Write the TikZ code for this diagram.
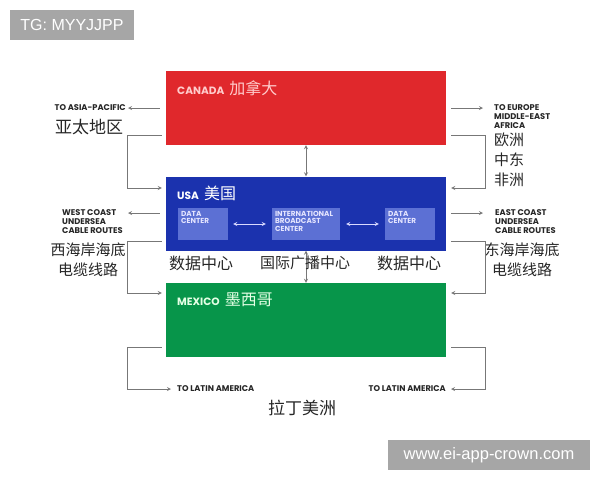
\documentclass[tikz,border=0pt]{standalone}
\usepackage{fontspec}
\usetikzlibrary{positioning}
\usetikzlibrary{calc}
\newfontfamily\cjk{Noto Sans CJK SC}
\newfontfamily\capsfont{Poppins}
\newfontfamily\markfont{Liberation Sans}
\definecolor{canadared}{HTML}{E0282C}
\definecolor{usablue}{HTML}{1B32AE}
\definecolor{hubblue}{HTML}{5C70D4}
\definecolor{mexicogreen}{HTML}{07954A}
\definecolor{linkgray}{HTML}{777777}
\definecolor{markgray}{HTML}{A6A6A6}
\def\boxW{280}
\def\boxH{74}

\begin{document}
\begin{tikzpicture}[x=1pt,y=-1pt,
    region/.style={minimum width=\boxW pt, minimum height=\boxH pt, inner sep=0pt},
    hub/.style={fill=hubblue, minimum height=32pt, inner sep=0pt},
    hubtext/.style={anchor=north west, inner sep=3pt, text=blue!10, align=left,
      font=\capsfont\bfseries\fontsize{7.3}{7.4}\selectfont},
    boxname/.style={anchor=west, inner sep=0pt},
    caps/.style={inner sep=0pt, align=left, text=black!85,
      font=\capsfont\bfseries\fontsize{8.3}{9}\selectfont},
    cn/.style={inner sep=0pt, text=black!85, font=\cjk\fontsize{15}{20}\selectfont},
    link/.style={draw=linkgray, line width=0.8pt, >=stealth},
    hubarrow/.style={draw=blue!15, line width=0.8pt, >=stealth},
    watermark/.style={fill=markgray, text=white, inner sep=0pt, font=\markfont}]
        \useasboundingbox (0,0) rectangle (600,480);

        % watermarks
        \node[watermark, minimum width=124pt, minimum height=30pt,
              font=\markfont\fontsize{16}{16}\selectfont] (tg) at (72,25) {TG: MYYJJPP};
        \node[watermark, minimum width=202pt, minimum height=30pt,
              font=\markfont\fontsize{16.5}{16}\selectfont] (site) at (489,455) {www.ei-app-crown.com};

        % the three countries
        \node[region, fill=canadared] (canada) at (306,108) {};
        \node[region, fill=usablue] (usa) at (306,213.5) {};
        \node[region, fill=mexicogreen] (mexico) at (306,320) {};

        \node[boxname, text=red!20] (canadalbl) at (177,88)
            {{\capsfont\bfseries\fontsize{10.6}{10}\selectfont CANADA}\hspace{5pt}{\cjk\fontsize{16}{16}\selectfont 加拿大}};
        \node[boxname, text=white] (usalbl) at (177,193)
            {{\capsfont\bfseries\fontsize{10.6}{10}\selectfont USA}\hspace{5pt}{\cjk\fontsize{16}{16}\selectfont 美国}};
        \node[boxname, text=green!10] (mexicolbl) at (177,300)
            {{\capsfont\bfseries\fontsize{10.6}{10}\selectfont MEXICO}\hspace{5pt}{\cjk\fontsize{16}{16}\selectfont 墨西哥}};

        \draw[link,<->] (canada.south) -- (usa.north);
        \draw[link,<->] (usa.south) -- (mexico.north);

        % inside the USA
        \node[hub, minimum width=50pt, label={[hubtext]north west:DATA\\CENTER}] (dcwest) at (203,224) {};
        \node[hub, minimum width=68pt, label={[hubtext]north west:INTERNATIONAL\\BROADCAST\\CENTER}] (ibc) at (306,224) {};
        \node[hub, minimum width=50pt, label={[hubtext]north west:DATA\\CENTER}] (dceast) at (410,224) {};
        \draw[hubarrow,<->,shorten <=5pt,shorten >=6pt] (dcwest) -- (ibc);
        \draw[hubarrow,<->,shorten <=6pt,shorten >=6pt] (ibc) -- (dceast);

        \node[cn, font=\cjk\fontsize{16}{16}\selectfont] (dcwestcn) at (201,263) {数据中心};
        \node[cn] (ibccn) at (305,263) {国际广播中心};
        \node[cn, font=\cjk\fontsize{16}{16}\selectfont] (dceastcn) at (409,263) {数据中心};

        % left side
        \coordinate (asiaArrow) at (128,108);
        \node[caps, anchor=east] (asia) at (126,108) {TO ASIA-PACIFIC};
        \node[cn, font=\cjk\fontsize{17}{17}\selectfont, anchor=north west] (asiacn) at (55,119) {亚太地区};
        \draw[link,->,shorten <=6pt] (canada.west |- asiaArrow) -- (asiaArrow);
        \coordinate (asiaTop) at (127,135);
        \coordinate (asiaBot) at (127,188);
        \draw[link,->,shorten <=4pt,shorten >=4pt] (canada.west |- asiaTop) -- (asiaTop)
            -- (asiaBot) -- (usa.west |- asiaBot);

        \coordinate (westArrow) at (128,213);
        \node[caps, anchor=north west] (west) at (62,209) {WEST COAST\\UNDERSEA\\CABLE ROUTES};
        \node[cn, align=center] (westcn) at (88,260) {西海岸海底\\电缆线路};
        \draw[link,->,shorten <=6pt] (usa.west |- westArrow) -- (westArrow);
        \coordinate (westTop) at (127,241);
        \coordinate (westBot) at (127,293);
        \draw[link,->,shorten <=4pt,shorten >=4pt] (usa.west |- westTop) -- (westTop)
            -- (westBot) -- (mexico.west |- westBot);

        % right side
        \coordinate (euroArrow) at (483,108);
        \node[caps, anchor=north west] (europe) at (494,104) {TO EUROPE\\MIDDLE-EAST\\AFRICA};
        \node[cn, anchor=north west, align=left] (europecn) at (494,133) {欧洲\\中东\\非洲};
        \draw[link,->,shorten <=5pt] (canada.east |- euroArrow) -- (euroArrow);
        \coordinate (euroTop) at (485,135);
        \coordinate (euroBot) at (485,188);
        \draw[link,->,shorten <=5pt,shorten >=5pt] (canada.east |- euroTop) -- (euroTop)
            -- (euroBot) -- (usa.east |- euroBot);

        \coordinate (eastArrow) at (483,213);
        \node[caps, anchor=north west] (east) at (495,209) {EAST COAST\\UNDERSEA\\CABLE ROUTES};
        \node[cn, align=center] (eastcn) at (522,260) {东海岸海底\\电缆线路};
        \draw[link,->,shorten <=5pt] (usa.east |- eastArrow) -- (eastArrow);
        \coordinate (eastTop) at (485,241);
        \coordinate (eastBot) at (485,293);
        \draw[link,->,shorten <=5pt,shorten >=5pt] (usa.east |- eastTop) -- (eastTop)
            -- (eastBot) -- (mexico.east |- eastBot);

        % bottom
        \node[caps, anchor=west] (latinwest) at (177,389) {TO LATIN AMERICA};
        \node[caps, anchor=east] (latineast) at (446,389) {TO LATIN AMERICA};
        \node[cn, font=\cjk\fontsize{17}{17}\selectfont] (latincn) at (302,408) {拉丁美洲};
        \coordinate (latinTopW) at (127,347);
        \coordinate (latinBotW) at (127,389);
        \draw[link,->,shorten <=4pt,shorten >=6pt] (mexico.west |- latinTopW) -- (latinTopW)
            -- (latinBotW) -- (latinwest.west);
        \coordinate (latinTopE) at (485,347);
        \coordinate (latinBotE) at (485,389);
        \draw[link,->,shorten <=5pt,shorten >=5pt] (mexico.east |- latinTopE) -- (latinTopE)
            -- (latinBotE) -- (latineast.east);
    \end{tikzpicture}
\end{document}
